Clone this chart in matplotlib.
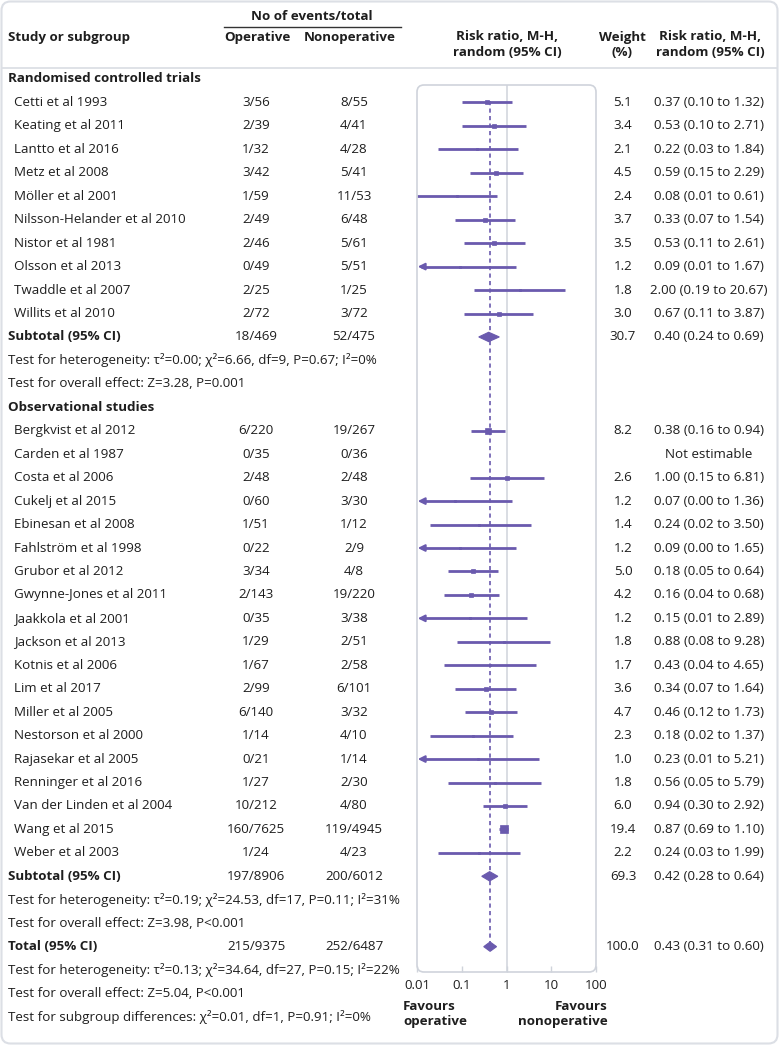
import matplotlib
matplotlib.use('Agg')
import matplotlib.pyplot as plt
from matplotlib.patches import FancyBboxPatch, Polygon
from matplotlib.lines import Line2D
import matplotlib.transforms as mtrans
from matplotlib.ticker import NullLocator

plt.rcParams['font.family'] = ['Open Sans', 'DejaVu Sans']

# ---------------- data ----------------
rct_names = ["Cetti et al 1993", "Keating et al 2011", "Lantto et al 2016", "Metz et al 2008",
             "Möller et al 2001", "Nilsson-Helander et al 2010", "Nistor et al 1981",
             "Olsson et al 2013", "Twaddle et al 2007", "Willits et al 2010"]
rct_op = ["3/56", "2/39", "1/32", "3/42", "1/59", "2/49", "2/46", "0/49", "2/25", "2/72"]
rct_nonop = ["8/55", "4/41", "4/28", "5/41", "11/53", "6/48", "5/61", "5/51", "1/25", "3/72"]
rct_weight = [5.1, 3.4, 2.1, 4.5, 2.4, 3.7, 3.5, 1.2, 1.8, 3.0]
rct_rr = [0.37, 0.53, 0.22, 0.59, 0.08, 0.33, 0.53, 0.09, 2.00, 0.67]
rct_lo = [0.10, 0.10, 0.03, 0.15, 0.01, 0.07, 0.11, 0.005, 0.19, 0.11]
rct_hi = [1.32, 2.71, 1.84, 2.29, 0.61, 1.54, 2.61, 1.67, 20.67, 3.87]
rct_ci = ["0.37 (0.10 to 1.32)", "0.53 (0.10 to 2.71)", "0.22 (0.03 to 1.84)", "0.59 (0.15 to 2.29)",
          "0.08 (0.01 to 0.61)", "0.33 (0.07 to 1.54)", "0.53 (0.11 to 2.61)", "0.09 (0.01 to 1.67)",
          "2.00 (0.19 to 20.67)", "0.67 (0.11 to 3.87)"]
rct_sub = dict(op="18/469", nonop="52/475", weight="30.7", rr=0.40, lo=0.24, hi=0.69,
               ci="0.40 (0.24 to 0.69)")
rct_tests = ["Test for heterogeneity: τ²=0.00; χ²=6.66, df=9, P=0.67; I²=0%",
             "Test for overall effect: Z=3.28, P=0.001"]

obs_names = ["Bergkvist et al 2012", "Carden et al 1987", "Costa et al 2006", "Cukelj et al 2015",
             "Ebinesan et al 2008", "Fahlström et al 1998", "Grubor et al 2012",
             "Gwynne-Jones et al 2011", "Jaakkola et al 2001", "Jackson et al 2013",
             "Kotnis et al 2006", "Lim et al 2017", "Miller et al 2005", "Nestorson et al 2000",
             "Rajasekar et al 2005", "Renninger et al 2016", "Van der Linden et al 2004",
             "Wang et al 2015", "Weber et al 2003"]
obs_op = ["6/220", "0/35", "2/48", "0/60", "1/51", "0/22", "3/34", "2/143", "0/35", "1/29",
          "1/67", "2/99", "6/140", "1/14", "0/21", "1/27", "10/212", "160/7625", "1/24"]
obs_nonop = ["19/267", "0/36", "2/48", "3/30", "1/12", "2/9", "4/8", "19/220", "3/38", "2/51",
             "2/58", "6/101", "3/32", "4/10", "1/14", "2/30", "4/80", "119/4945", "4/23"]
obs_weight = [8.2, None, 2.6, 1.2, 1.4, 1.2, 5.0, 4.2, 1.2, 1.8,
              1.7, 3.6, 4.7, 2.3, 1.0, 1.8, 6.0, 19.4, 2.2]
obs_rr = [0.38, None, 1.00, 0.07, 0.24, 0.09, 0.18, 0.16, 0.15, 0.88,
          0.43, 0.34, 0.46, 0.18, 0.23, 0.56, 0.94, 0.87, 0.24]
obs_lo = [0.16, None, 0.15, 0.004, 0.02, 0.004, 0.05, 0.04, 0.007, 0.08,
          0.04, 0.07, 0.12, 0.02, 0.008, 0.05, 0.30, 0.69, 0.03]
obs_hi = [0.94, None, 6.81, 1.36, 3.50, 1.65, 0.64, 0.68, 2.89, 9.28,
          4.65, 1.64, 1.73, 1.37, 5.21, 5.79, 2.92, 1.10, 1.99]
obs_ci = ["0.38 (0.16 to 0.94)", "Not estimable", "1.00 (0.15 to 6.81)", "0.07 (0.00 to 1.36)",
          "0.24 (0.02 to 3.50)", "0.09 (0.00 to 1.65)", "0.18 (0.05 to 0.64)", "0.16 (0.04 to 0.68)",
          "0.15 (0.01 to 2.89)", "0.88 (0.08 to 9.28)", "0.43 (0.04 to 4.65)", "0.34 (0.07 to 1.64)",
          "0.46 (0.12 to 1.73)", "0.18 (0.02 to 1.37)", "0.23 (0.01 to 5.21)", "0.56 (0.05 to 5.79)",
          "0.94 (0.30 to 2.92)", "0.87 (0.69 to 1.10)", "0.24 (0.03 to 1.99)"]
obs_sub = dict(op="197/8906", nonop="200/6012", weight="69.3", rr=0.42, lo=0.28, hi=0.64,
               ci="0.42 (0.28 to 0.64)")
obs_tests = ["Test for heterogeneity: τ²=0.19; χ²=24.53, df=17, P=0.11; I²=31%",
             "Test for overall effect: Z=3.98, P<0.001"]

total = dict(op="215/9375", nonop="252/6487", weight="100.0", rr=0.43, lo=0.31, hi=0.60,
             ci="0.43 (0.31 to 0.60)")
total_tests = ["Test for heterogeneity: τ²=0.13; χ²=34.64, df=27, P=0.15; I²=22%",
               "Test for overall effect: Z=5.04, P<0.001",
               "Test for subgroup differences: χ²=0.01, df=1, P=0.91; I²=0%"]

xticks = [0.01, 0.1, 1, 10, 100]
xtick_labels = ["0.01", "0.1", "1", "10", "100"]

# ---------------- layout / style ----------------
W, H = 780, 1046
TEXT = '#1e1e1e'
PURPLE = '#6a5aae'
GRID = '#cfd3db'
FS = 9.6

ROW0, STEP = 79.0, 23.45
AXL, AXR, AXT, AXB = 417, 596, 85, 972
X_NAME_H, X_NAME = 8, 14
X_OP, X_NONOP, X_W, X_CI = 256, 354, 623, 709

fig = plt.figure(figsize=(W / 100, H / 100), dpi=100)
fig.patch.set_facecolor('white')


def fx(x):
    return x / W


def fy(y):
    return 1 - y / H


ax = fig.add_axes([fx(AXL), fy(AXB), (AXR - AXL) / W, (AXB - AXT) / H])
ax.set_xscale('log')
ax.set_xlim(xticks[0], xticks[-1])
ax.set_ylim((AXB - ROW0) / STEP, (AXT - ROW0) / STEP)
for s in ax.spines.values():
    s.set_visible(False)
ax.patch.set_visible(False)
ax.set_yticks([])
ax.set_xticks(xticks)
ax.set_xticklabels(xtick_labels)
ax.xaxis.set_minor_locator(NullLocator())
ax.tick_params(axis='x', direction='in', length=4, width=1, color=GRID,
               labelcolor=TEXT, labelsize=FS, pad=5)

# panel box (pixel coordinates)
pix = mtrans.IdentityTransform()
fig.patches.append(FancyBboxPatch((AXL, H - AXB), AXR - AXL, AXB - AXT,
                                  boxstyle='round,pad=0,rounding_size=7',
                                  transform=pix, fill=False, ec=GRID, lw=1.2, zorder=0))
# outer frame
fig.patches.append(FancyBboxPatch((1.5, H - 1043.5), 776, 1042,
                                  boxstyle='round,pad=0,rounding_size=9',
                                  transform=pix, fill=False, ec='#dcdfe5', lw=1.5, zorder=0))
# header lines
fig.add_artist(Line2D([fx(1.5), fx(777)], [fy(67.5), fy(67.5)], color='#dcdfe5', lw=1.3))
fig.add_artist(Line2D([fx(224), fx(401)], [fy(26.5), fy(26.5)], color='#333333', lw=1.0))

ax.axvline(1, color=GRID, lw=1.1, zorder=1)

tr = mtrans.blended_transform_factory(fig.transFigure, ax.transData)


def txt(x, row, s, ha='left', bold=False):
    fig.text(fx(x), row, s, transform=tr, ha=ha, va='center', fontsize=FS, color=TEXT,
             fontweight='bold' if bold else 'normal')


def study_row(row, name, op, nonop, w, rr, lo, hi, ci):
    txt(X_NAME, row, name)
    txt(X_OP, row, op, ha='center')
    txt(X_NONOP, row, nonop, ha='center')
    if w is not None:
        txt(X_W, row, f"{w:.1f}", ha='center')
    txt(X_CI, row, ci, ha='center')
    if rr is None:
        return
    xmin = xticks[0]
    if lo < xmin:
        ax.plot([xmin * 1.2, hi], [row, row], color=PURPLE, lw=2, solid_capstyle='butt', zorder=3)
        ax.annotate('', xy=(xmin * 1.04, row), xytext=(xmin * 1.5, row),
                    arrowprops=dict(arrowstyle='-|>,head_length=0.4,head_width=0.2',
                                    color=PURPLE, lw=1.5, shrinkA=0, shrinkB=0), zorder=3)
    else:
        ax.plot([lo, hi], [row, row], color=PURPLE, lw=2, solid_capstyle='butt', zorder=3)
    ax.plot([rr], [row], marker='s', ms=1.35 * w ** 0.5, color=PURPLE, mec=PURPLE, mew=0.5,
            zorder=4)


def diamond(row, d, bold_label):
    txt(X_NAME_H, row, bold_label, bold=True)
    txt(X_OP, row, d['op'], ha='center')
    txt(X_NONOP, row, d['nonop'], ha='center')
    txt(X_W, row, d['weight'], ha='center')
    txt(X_CI, row, d['ci'], ha='center')
    h = 0.2
    ax.add_patch(Polygon([(d['lo'], row), (d['rr'], row - h), (d['hi'], row), (d['rr'], row + h)],
                         closed=True, fc=PURPLE, ec=PURPLE, lw=0.8, zorder=4))


row = 0
txt(X_NAME_H, row, "Randomised controlled trials", bold=True)
row += 1
first_row = row
for i in range(len(rct_names)):
    study_row(row, rct_names[i], rct_op[i], rct_nonop[i], rct_weight[i], rct_rr[i],
              rct_lo[i], rct_hi[i], rct_ci[i])
    row += 1
diamond(row, rct_sub, "Subtotal (95% CI)")
row += 1
for t in rct_tests:
    txt(X_NAME_H, row, t)
    row += 1
txt(X_NAME_H, row, "Observational studies", bold=True)
row += 1
for i in range(len(obs_names)):
    study_row(row, obs_names[i], obs_op[i], obs_nonop[i], obs_weight[i], obs_rr[i],
              obs_lo[i], obs_hi[i], obs_ci[i])
    row += 1
diamond(row, obs_sub, "Subtotal (95% CI)")
row += 1
for t in obs_tests:
    txt(X_NAME_H, row, t)
    row += 1
diamond(row, total, "Total (95% CI)")
total_row = row
row += 1
for t in total_tests:
    txt(X_NAME_H, row, t)
    row += 1

# pooled effect dashed line
ax.plot([total['rr'], total['rr']], [first_row - 0.05, total_row - 0.2], color=PURPLE, lw=1.2,
        dashes=(2.5, 2), zorder=2)

# headers
def htxt(x, y, s, ha='left', bold=True):
    fig.text(fx(x), fy(y), s, ha=ha, va='center', fontsize=FS, color=TEXT,
             fontweight='bold' if bold else 'normal')


htxt(312, 16.5, "No of events/total", ha='center')
htxt(X_NAME_H, 37, "Study or subgroup")
htxt(257, 37, "Operative", ha='center')
htxt(350, 37, "Nonoperative", ha='center')
htxt(507, 37, "Risk ratio, M-H,", ha='center')
htxt(507, 52, "random (95% CI)", ha='center')
htxt(622.5, 37, "Weight", ha='center')
htxt(622.5, 52, "(%)", ha='center')
htxt(710, 37, "Risk ratio, M-H,", ha='center')
htxt(710, 52, "random (95% CI)", ha='center')

htxt(403, 1007, "Favours")
htxt(403, 1022, "operative")
htxt(608, 1007, "Favours", ha='right')
htxt(608, 1022, "nonoperative", ha='right')

fig.savefig('out.png', dpi=100, facecolor='white')
